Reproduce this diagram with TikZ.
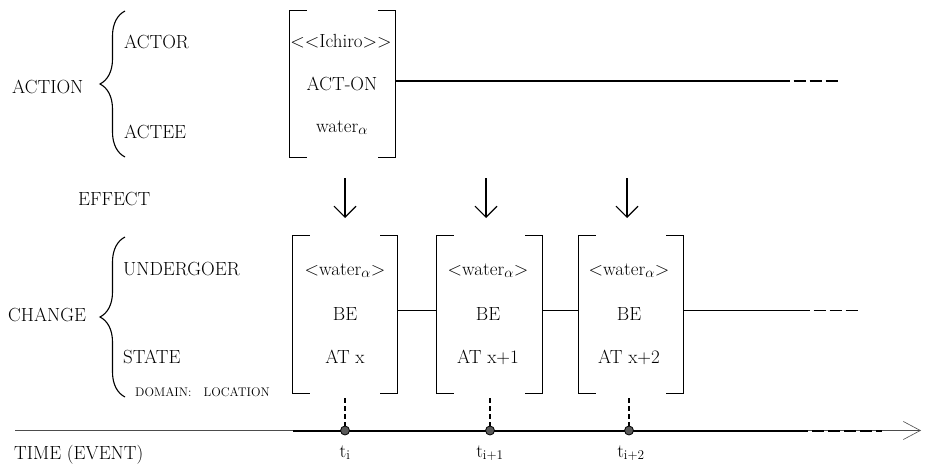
\documentclass[tikz,border=0pt]{standalone}
\usetikzlibrary{arrows.meta,decorations.pathreplacing}
\begin{document}
\begin{tikzpicture}[x=1pt,y=-1pt,
  txt/.style={font=\fontsize{19}{22}\selectfont, inner sep=0pt, anchor=base},
  lbl/.style={txt, anchor=base west},
  small/.style={font=\fontsize{12.5}{15}\selectfont, inner sep=0pt, anchor=base west},
  frame/.style={draw=none, minimum width=#1, inner sep=0pt},
  brk/.style={line width=1.3pt},
  conn/.style={line width=1.1pt},
  dashtail/.style={line width=1.1pt, dash pattern=on 12.5pt off 3.5pt, dash phase=12.5pt},
  bracebig/.style={line width=1.1pt, decorate, decoration={brace, amplitude=25pt}},
  effarrow/.style={line width=1.1pt, -{Straight Barb[length=11pt,width=22pt,line width=1.1pt]}},
  tick/.style={line width=1.1pt, dash pattern=on 5pt off 3pt},
  tdot/.style={circle, draw=black, fill=black!65, minimum size=9pt, inner sep=0pt, line width=0.8pt}
]
\fill[white] (0,0) rectangle (926,463);
\useasboundingbox (0,0) rectangle (926,463);

% ---------- ACTION part ----------
\node[lbl] (action) at (12,93) {ACTION};
\node[lbl] (actor) at (124,48) {ACTOR};
\node[lbl] (actee) at (124,138) {ACTEE};
\coordinate (abrtop) at (125,11);
\coordinate (abrbot) at (125,157);
\draw[bracebig] (abrbot) -- (abrtop);

\node[frame=105pt, minimum height=146pt] (act) at (342.5,84) {};
\draw[brk] ([xshift=17pt]act.north west) -- (act.north west) -- (act.south west) -- ([xshift=17pt]act.south west);
\draw[brk] ([xshift=-17pt]act.north east) -- (act.north east) -- (act.south east) -- ([xshift=-17pt]act.south east);
\node[txt] (ichiro) at (341,47) {\textless\kern0pt\textless Ichiro\textgreater\kern0pt\textgreater};
\node[txt] (acton) at (342,90) {ACT-ON};
\node[txt] (watera) at (342,132) {water$_{\alpha}$};

\coordinate (aend) at (790,81);
\coordinate (adash) at (840,81);
\draw[conn] ([yshift=3pt]act.east) -- (aend);
\draw[dashtail] (aend) -- (adash);

% ---------- EFFECT ----------
\node[lbl] (effect) at (78,205) {EFFECT};
\coordinate (e1s) at (345,178); \coordinate (e1e) at (345,218);
\coordinate (e2s) at (486,178); \coordinate (e2e) at (486,218);
\coordinate (e3s) at (627,178); \coordinate (e3e) at (627,218);
\draw[effarrow] (e1s) -- (e1e);
\draw[effarrow] (e2s) -- (e2e);
\draw[effarrow] (e3s) -- (e3e);

% ---------- CHANGE part ----------
\node[lbl] (change) at (8,321) {CHANGE};
\node[lbl] (undergoer) at (123,275) {UNDERGOER};
\node[lbl] (state) at (123,363) {STATE};
\node[small] (domain) at (135,396) {DOMAIN:\ \ \ LOCATION};
\coordinate (cbrtop) at (125,237);
\coordinate (cbrbot) at (125,397);
\draw[bracebig] (cbrbot) -- (cbrtop);

\node[frame=104pt, minimum height=157pt] (c1) at (345,314.5) {};
\node[frame=105pt, minimum height=157pt] (c2) at (489.5,314.5) {};
\node[frame=104pt, minimum height=157pt] (c3) at (631,314.5) {};
\foreach \b in {c1,c2,c3}{
  \draw[brk] ([xshift=17pt]\b.north west) -- (\b.north west) -- (\b.south west) -- ([xshift=17pt]\b.south west);
  \draw[brk] ([xshift=-17pt]\b.north east) -- (\b.north east) -- (\b.south east) -- ([xshift=-17pt]\b.south east);
}
\node[txt] (w1) at (345,275) {\textless water$_{\alpha}$\textgreater};
\node[txt] (be1) at (345,320) {BE};
\node[txt] (at1) at (345,363) {AT x};
\node[txt] (w2) at (488,275) {\textless water$_{\alpha}$\textgreater};
\node[txt] (be2) at (488,320) {BE};
\node[txt] (at2) at (488,363) {AT x+1};
\node[txt] (w3) at (629,275) {\textless water$_{\alpha}$\textgreater};
\node[txt] (be3) at (629,320) {BE};
\node[txt] (at3) at (629,363) {AT x+2};

\draw[conn] ([yshift=4pt]c1.east) -- ([yshift=4pt]c2.west);
\draw[conn] ([yshift=4pt]c2.east) -- ([yshift=4pt]c3.west);
\coordinate (cend) at (810,310.5);
\coordinate (cdash) at (860,310.5);
\draw[conn] ([yshift=4pt]c3.east) -- (cend);
\draw[dashtail] (cend) -- (cdash);

% ---------- TIME line ----------
\coordinate (tstart) at (15,430.5);
\coordinate (ttip) at (921,430.5);
\coordinate (tthick) at (293,430.5);
\coordinate (tthickend) at (808,430.5);
\coordinate (tdashend) at (882,430.5);
\draw[line width=0.6pt, black!70, -{Straight Barb[length=17pt,width=18pt,line width=0.6pt]}] (tstart) -- (ttip);
\draw[line width=2pt] (tthick) -- (tthickend);
\draw[line width=2pt, dash pattern=on 12pt off 4pt, dash phase=12pt] (tthickend) -- (tdashend);

\node[tdot] (d1) at (345,430.5) {};
\node[tdot] (d2) at (490,430.5) {};
\node[tdot] (d3) at (629,430.5) {};
\coordinate (v1) at (345,398);
\coordinate (v2) at (490,398);
\coordinate (v3) at (629,398);
\draw[tick] (v1) -- (d1.north);
\draw[tick] (v2) -- (d2.north);
\draw[tick] (v3) -- (d3.north);

\node[txt] (t1) at (345,457) {t\textsubscript{i}};
\node[txt] (t2) at (490,457) {t\textsubscript{i+1}};
\node[txt] (t3) at (631,457) {t\textsubscript{i+2}};
\node[lbl] (time) at (14,459) {TIME (EVENT)};
\end{tikzpicture}
\end{document}
